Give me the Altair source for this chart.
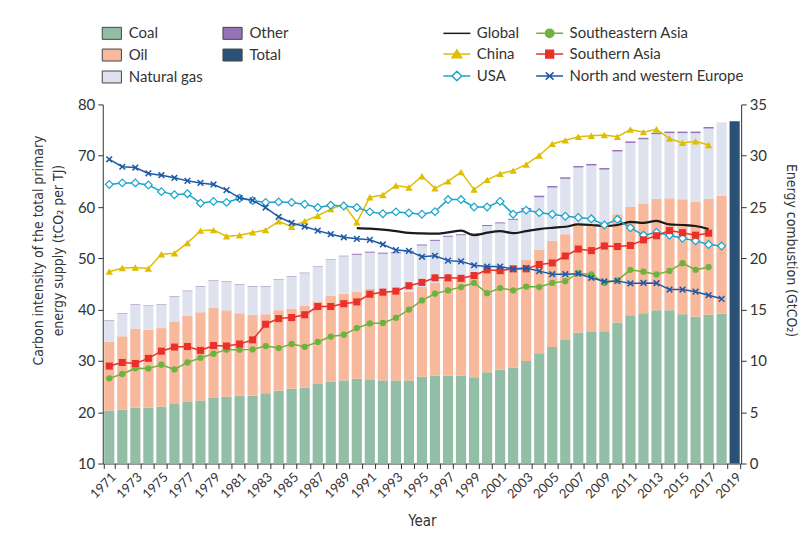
import altair as alt
import pandas as pd

# ---------------- data ----------------
bar_years = list(range(1971, 2019))
coal = [5.15, 5.25, 5.45, 5.45, 5.55, 5.8, 6.0, 6.15, 6.45, 6.5,
        6.6, 6.6, 6.85, 7.1, 7.3, 7.4, 7.75, 8.0, 8.1, 8.25,
        8.15, 8.1, 8.1, 8.1, 8.45, 8.55, 8.55, 8.55, 8.4, 8.9,
        9.15, 9.35, 10.0, 10.75, 11.35, 12.05, 12.75, 12.9, 12.9, 13.75,
        14.45, 14.65, 14.95, 14.95, 14.55, 14.3, 14.5, 14.6]
oil = [6.7, 7.15, 7.7, 7.6, 7.65, 8.05, 8.4, 8.6, 8.7, 8.45,
       8.05, 7.9, 7.7, 7.85, 7.8, 8.0, 8.05, 8.35, 8.45, 8.5,
       8.85, 8.7, 8.75, 8.65, 8.75, 9.05, 9.35, 9.7, 10.0, 9.9,
       9.8, 9.8, 9.85, 10.1, 10.35, 10.3, 10.4, 10.35, 10.25, 10.55,
       10.55, 10.7, 10.85, 10.9, 11.2, 11.25, 11.3, 11.5]
gas = [2.05, 2.2, 2.3, 2.3, 2.25, 2.4, 2.4, 2.5, 2.65, 2.75,
       2.75, 2.75, 2.7, 2.95, 3.1, 3.15, 3.35, 3.5, 3.65, 3.6,
       3.55, 3.65, 3.65, 3.9, 4.05, 4.1, 4.2, 4.0, 3.95, 4.35,
       4.45, 4.6, 4.9, 5.1, 5.2, 5.4, 5.7, 5.8, 5.5, 6.1,
       6.25, 6.25, 6.3, 6.35, 6.45, 6.65, 6.85, 7.15]
other = [0.05] * 19 + [0.1] * 13 + [0.15] * 15 + [0.0]
total_year = 2019
total_value = 33.35

fuel_domain = ["Coal", "Oil", "Natural gas", "Other", "Total"]
fuel_colors = ["#93bea6", "#f8b89b", "#dde2ee", "#9673b9", "#2b5177"]
fuel_order = {"Coal": 0, "Oil": 1, "Natural gas": 2, "Other": 3, "Total": 4}

global_years = list(range(1990, 2018))
global_ci = [55.9, 55.8, 55.6, 55.3, 54.95, 54.85, 54.8, 55.05, 55.4, 54.5,
             55.0, 55.3, 54.9, 55.3, 55.7, 55.95, 56.15, 56.6, 56.5, 56.3,
             56.5, 57.1, 56.9, 57.3, 56.6, 56.5, 56.3, 55.7]
years_to_2017 = list(range(1971, 2018))
years_to_2018 = list(range(1971, 2019))
china = [47.4, 48.1, 48.2, 48.0, 50.8, 51.0, 53.0, 55.4, 55.5, 54.3,
         54.5, 55.05, 55.5, 57.2, 56.15, 57.25, 58.3, 59.6, 60.55, 57.0,
         61.9, 62.35, 64.2, 63.8, 66.0, 63.65, 65.0, 66.8, 63.4, 65.3,
         66.5, 67.1, 68.3, 70.05, 72.3, 73.0, 73.7, 73.9, 74.05, 73.7,
         75.1, 74.6, 75.15, 73.35, 72.5, 72.8, 72.1]
usa = [64.4, 64.7, 64.7, 64.3, 63.0, 62.4, 62.6, 60.75, 61.1, 60.9,
       61.7, 61.25, 60.9, 61.0, 60.9, 60.55, 59.9, 60.35, 60.2, 59.9,
       59.05, 58.7, 59.05, 58.85, 58.6, 59.1, 61.45, 61.45, 60.0, 60.0,
       61.1, 58.6, 59.4, 58.9, 58.6, 58.2, 57.95, 57.7, 56.5, 57.6,
       55.95, 54.5, 55.05, 54.5, 53.9, 53.4, 52.7, 52.4]
se_asia = [26.6, 27.45, 28.55, 28.5, 29.25, 28.35, 29.7, 30.6, 31.4, 32.2,
           32.2, 32.25, 32.9, 32.5, 33.3, 32.75, 33.7, 34.75, 35.1, 36.4,
           37.3, 37.4, 38.4, 40.0, 41.8, 43.1, 43.75, 44.4, 45.2, 43.2,
           44.2, 43.75, 44.5, 44.4, 45.2, 45.55, 47.1, 46.85, 45.2, 45.7,
           47.75, 47.4, 46.85, 47.55, 49.05, 47.75, 48.3]
south_asia = [29.0, 29.7, 29.5, 30.5, 31.9, 32.7, 32.8, 32.05, 33.0, 32.9,
              33.3, 34.1, 37.15, 38.25, 38.45, 39.0, 40.6, 40.6, 41.15, 41.5,
              43.0, 43.4, 43.6, 44.65, 45.3, 46.2, 46.2, 46.1, 46.65, 47.75,
              47.6, 47.95, 47.95, 48.8, 49.1, 50.45, 51.8, 51.5, 52.4, 52.3,
              52.5, 53.6, 54.4, 55.4, 55.0, 54.5, 54.9]
europe = [69.3, 67.85, 67.7, 66.55, 66.2, 65.7, 65.1, 64.7, 64.4, 63.3,
          61.8, 61.3, 59.9, 58.1, 56.9, 56.2, 55.4, 54.7, 54.1, 53.8,
          53.6, 52.7, 51.6, 51.45, 50.3, 50.5, 49.55, 49.4, 48.65, 48.4,
          48.4, 47.9, 48.1, 47.5, 46.9, 46.9, 47.0, 46.2, 45.5, 45.6,
          45.1, 45.2, 45.15, 43.9, 43.9, 43.5, 42.8, 42.1]

series_domain = ["Global", "China", "USA", "Southeastern Asia", "Southern Asia",
                 "North and western Europe"]
series_colors = ["#1a1a1a", "#dfbd00", "#19a5cc", "#6db33f", "#e8312a", "#1c5aa6"]

all_years = list(range(1971, 2020))

# ---------------- tables ----------------
bar_rows = []
for i, yr in enumerate(bar_years):
    for fuel, vals in (("Coal", coal), ("Oil", oil), ("Natural gas", gas), ("Other", other)):
        bar_rows.append({"year": yr, "fuel": fuel, "value": vals[i], "ord": fuel_order[fuel]})
bar_rows.append({"year": total_year, "fuel": "Total", "value": total_value, "ord": fuel_order["Total"]})
bars_df = pd.DataFrame(bar_rows)

line_rows = []
for name, yrs, vals in (("Global", global_years, global_ci),
                        ("China", years_to_2017, china),
                        ("USA", years_to_2018, usa),
                        ("Southeastern Asia", years_to_2017, se_asia),
                        ("Southern Asia", years_to_2017, south_asia),
                        ("North and western Europe", years_to_2018, europe)):
    for yr, v in zip(yrs, vals):
        line_rows.append({"series": name, "year": yr, "value": v})
lines_df = pd.DataFrame(line_rows)

# ---------------- encodings ----------------
FONT = "Lato"
TITLE_FONT = "Liberation Sans Narrow, Arial Narrow, DejaVu Sans Condensed, sans-serif"
TXT = "#333333"

xscale = alt.Scale(domain=all_years, paddingInner=0.22, paddingOuter=0.11)
xaxis = alt.Axis(title="Year", labelAngle=-45, labelOverlap=False,
                 labelExpr="datum.value % 2 == 1 ? datum.label : ''",
                 tickBand="extent", tickSize=5, labelFontSize=13, titleFontSize=15,
                 titleFont=TITLE_FONT, titleFontWeight="normal", titlePadding=13, labelPadding=2,
                 domainColor=TXT, tickColor=TXT, labelColor=TXT, titleColor=TXT)
X = alt.X("year:O", scale=xscale, axis=xaxis)

left_axis = alt.Axis(orient="left", values=list(range(10, 81, 10)),
                     title=["Carbon intensity of the total primary", "energy supply (tCO\u2082 per TJ)"],
                     titleFont=TITLE_FONT, titleFontSize=14, titleFontWeight="normal",
                     titleLineHeight=20, titlePadding=12, titleY=146,
                     labelFontSize=15, tickSize=5, labelPadding=3,
                     domainColor=TXT, tickColor=TXT, labelColor=TXT, titleColor=TXT, grid=False)
Y_left = alt.Y("value:Q", scale=alt.Scale(domain=[10, 80], nice=False, zero=False), axis=left_axis)

right_axis = alt.Axis(orient="right", values=list(range(0, 36, 5)),
                      title="Energy combustion (GtCO\u2082)", titleFont=TITLE_FONT, titleFontSize=14,
                      titleFontWeight="normal", titlePadding=17, titleY=146,
                      labelFontSize=15, tickSize=5, labelPadding=3,
                      domainColor=TXT, tickColor=TXT, labelColor=TXT, titleColor=TXT, grid=False)

bar_legend = alt.Legend(title=None, orient="none", legendX=-2, legendY=-79, columns=2,
                        columnPadding=17, rowPadding=5, padding=0,
                        symbolType="M-1,-1H2.2V1H-1Z", symbolSize=144,
                        symbolStrokeColor="#444444", symbolStrokeWidth=1,
                        labelFontSize=15, labelOffset=13, labelColor=TXT, labelFont=FONT,
                        labelLimit=400)

bars = alt.Chart(bars_df).mark_bar().encode(
    x=X,
    y=alt.Y("value:Q", stack="zero", scale=alt.Scale(domain=[0, 35], nice=False), axis=right_axis),
    color=alt.Color("fuel:N", scale=alt.Scale(domain=fuel_domain, range=fuel_colors), legend=bar_legend),
    order=alt.Order("ord:Q"),
)

# ---------------- lines ----------------
X_PATH = "M-0.9,-0.9L0.9,0.9M-0.9,0.9L0.9,-0.9"
marker_specs = {
    "China": dict(shape="triangle-up", filled=True, color="#dfbd00", size=55),
    "USA": dict(shape="diamond", filled=True, fill="white", stroke="#19a5cc", strokeWidth=1.2, size=60),
    "Southeastern Asia": dict(shape="circle", filled=True, color="#6db33f", size=40),
    "Southern Asia": dict(shape="square", filled=True, color="#e8312a", size=50),
    "North and western Europe": dict(shape=X_PATH, filled=False, color="#1c5aa6", strokeWidth=1.5, size=40),
}

line_layers = []
for name, col in zip(series_domain, series_colors):
    sub = alt.Chart(lines_df).transform_filter(alt.datum.series == name)
    if name == "Global":
        line_layers.append(sub.mark_line(color=col, strokeWidth=2.2, interpolate="monotone").encode(x=X, y=Y_left))
    else:
        line_layers.append(sub.mark_line(color=col, strokeWidth=1.5).encode(x=X, y=Y_left))
        line_layers.append(sub.mark_point(opacity=1, **marker_specs[name]).encode(x=X, y=Y_left))

# legend-only layer (no data drawn)
legend_paths = [
    "M-1,0H3.5",
    "M-1,0H3.5M0.45,0.6L1.25,-0.7L2.05,0.6Z",
    "M-1,0H0.45M2.05,0H3.5M1.25,-0.8L2.05,0L1.25,0.8L0.45,0Z",
    "M-1,0H3.5M0.55,0A0.7,0.7 0 1,0 1.95,0A0.7,0.7 0 1,0 0.55,0Z",
    "M-1,0H3.5M0.6,-0.65H1.9V0.65H0.6Z",
    "M-1,0H3.5M0.6,-0.6L1.9,0.6M0.6,0.6L1.9,-0.6",
]
legend_fills = ["transparent", "#dfbd00", "white", "#6db33f", "#e8312a", "transparent"]

def line_legend():
    return alt.Legend(title=None, orient="none", legendX=340, legendY=-79, columns=2,
                      columnPadding=13, rowPadding=5, padding=0, symbolSize=144,
                      symbolStrokeWidth=1.5, labelFontSize=15, labelOffset=20,
                      labelColor=TXT, labelFont=FONT, labelLimit=400)

legend_layer = alt.Chart(lines_df).transform_filter("datum.value > 1000").mark_point(
    opacity=1, size=144, strokeWidth=1.5
).encode(
    x=X, y=Y_left,
    shape=alt.Shape("series:N", scale=alt.Scale(domain=series_domain, range=legend_paths), legend=line_legend()),
    stroke=alt.Stroke("series:N", scale=alt.Scale(domain=series_domain, range=series_colors), legend=line_legend()),
    fill=alt.Fill("series:N", scale=alt.Scale(domain=series_domain, range=legend_fills), legend=line_legend()),
)

lines = alt.layer(*line_layers, legend_layer)

chart = alt.layer(bars, lines).resolve_scale(y="independent").properties(
    width=640, height=360,
    padding={"left": 23, "top": 17, "right": 5, "bottom": 5},
).configure(font=FONT).configure_view(stroke=None)

chart.save("out.html", embed_options={"renderer": "svg", "actions": False})
